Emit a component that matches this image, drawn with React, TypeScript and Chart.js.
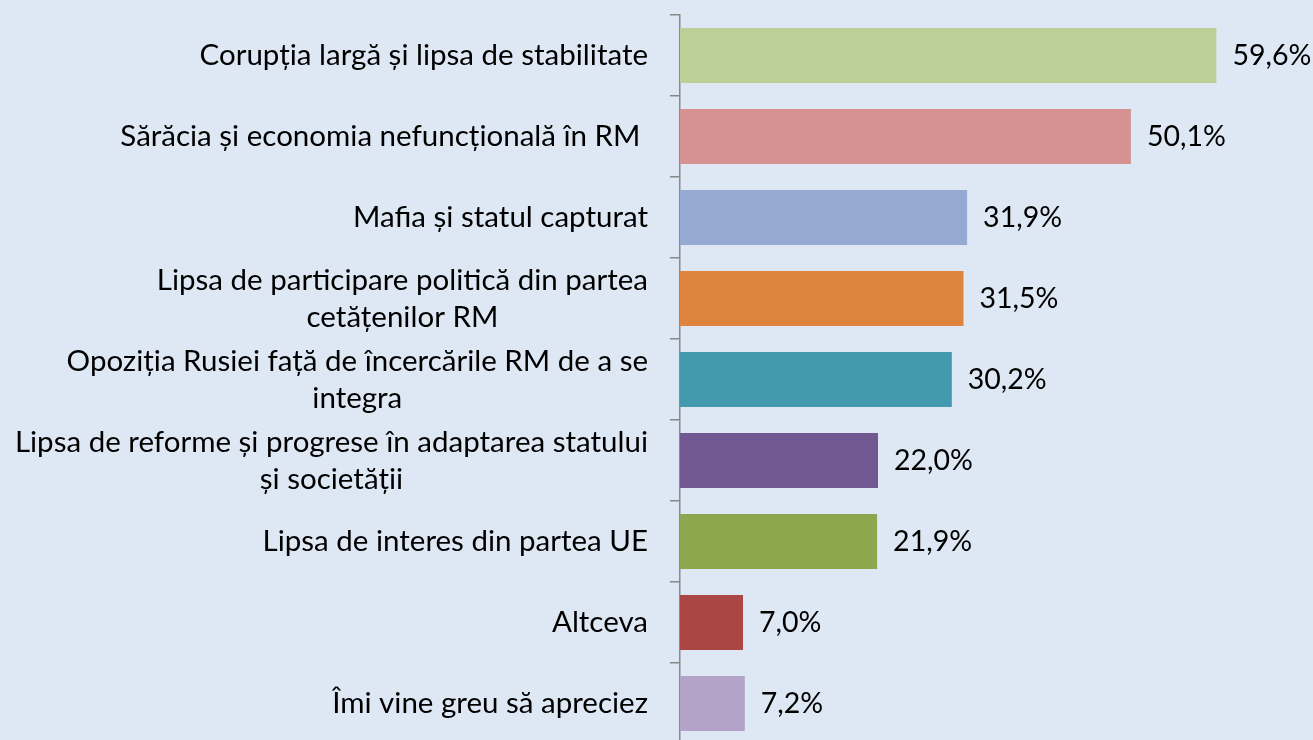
import React, { useEffect, useRef } from "react";
import { Chart, registerables } from "chart.js";

Chart.register(...registerables);

const categories: (string | string[])[] = [
  "Corupția largă și lipsa de stabilitate",
  "Sărăcia și economia nefuncțională în RM ",
  "Mafia și statul capturat",
  ["Lipsa de participare politică din partea", "cetățenilor RM"],
  ["Opoziția Rusiei față de încercările RM de a se", "integra"],
  ["Lipsa de reforme și progrese în adaptarea statului", "și societății"],
  "Lipsa de interes din partea UE",
  "Altceva",
  "Îmi vine greu să apreciez",
];

const values = [59.6, 50.1, 31.9, 31.5, 30.2, 22.0, 21.9, 7.0, 7.2];

const barColors = [
  "#BBCF97",
  "#D59291",
  "#96AAD1",
  "#DE843F",
  "#4399AE",
  "#725890",
  "#8CA74D",
  "#AA4644",
  "#B3A3C8",
];

const BG = "#DEE8F4";
const FONT = "Lato, 'Open Sans', sans-serif";
const LABEL_SIZE = 29.5;
const LINE_GAP = 37;

const valueLabels = {
  id: "valueLabels",
  afterDatasetsDraw(chart: any) {
    const ctx = chart.ctx;
    const meta = chart.getDatasetMeta(0);
    ctx.save();
    ctx.font = `28.5px ${FONT}`;
    ctx.fillStyle = "#000000";
    ctx.textAlign = "left";
    ctx.textBaseline = "middle";
    meta.data.forEach((bar: any, i: number) => {
      const v = values[i];
      ctx.fillText(v.toFixed(1).replace(".", ",") + "%", bar.x + 16, bar.y);
    });
    ctx.restore();
  },
};

const categoryLabels = {
  id: "categoryLabels",
  afterDraw(chart: any) {
    const ctx = chart.ctx;
    const yScale = chart.scales.y;
    const right = yScale.right - 10 - 22;
    ctx.save();
    ctx.font = `${LABEL_SIZE}px ${FONT}`;
    ctx.fillStyle = "#000000";
    ctx.textAlign = "center";
    ctx.textBaseline = "middle";
    categories.forEach((lab, i) => {
      const lines = Array.isArray(lab) ? lab : [lab];
      const widths = lines.map((l) => ctx.measureText(l).width);
      const maxW = Math.max(...widths);
      const cx = right - maxW / 2;
      const cy = yScale.getPixelForTick(i);
      const y0 = cy - ((lines.length - 1) * LINE_GAP) / 2;
      lines.forEach((l, k) => {
        if (lines.length === 1) {
          ctx.textAlign = "right";
          ctx.fillText(l, right, y0);
          ctx.textAlign = "center";
        } else {
          ctx.fillText(l, cx, y0 + k * LINE_GAP);
        }
      });
    });
    ctx.restore();
  },
};

const bgPlugin = {
  id: "bgFill",
  beforeDraw(chart: any) {
    const ctx = chart.ctx;
    ctx.save();
    ctx.fillStyle = BG;
    ctx.fillRect(0, 0, chart.width, chart.height);
    ctx.restore();
  },
};

export default function App() {
  const ref = useRef<HTMLCanvasElement | null>(null);

  useEffect(() => {
    if (!ref.current) return;
    const chart = new Chart(ref.current, {
      type: "bar",
      data: {
        labels: categories,
        datasets: [
          {
            data: values,
            backgroundColor: barColors,
            borderWidth: 0,
            barPercentage: 0.68,
            categoryPercentage: 1,
          },
        ],
      },
      options: {
        indexAxis: "y",
        animation: false,
        responsive: false,
        layout: { padding: { top: 15, bottom: 16, left: 0, right: 3 } },
        plugins: {
          legend: { display: false },
          tooltip: { enabled: false },
        },
        scales: {
          x: {
            display: false,
            min: 0,
            max: 70,
          },
          y: {
            afterFit(scale: any) {
              scale.width = 680;
              scale.paddingTop = 0;
              scale.paddingBottom = 0;
            },
            grid: {
              drawOnChartArea: false,
              drawTicks: true,
              tickLength: 10,
              color: "#888888",
              lineWidth: 1.5,
            },
            border: { display: true, color: "#888888", width: 1.5 },
            ticks: {
              display: false,
              autoSkip: false,
            },
          },
        },
      },
      plugins: [bgPlugin, valueLabels, categoryLabels],
    });
    return () => chart.destroy();
  }, []);

  return (
    <div
      style={{
        position: "fixed",
        left: 0,
        top: 0,
        width: 1313,
        height: 740,
        overflow: "hidden",
        background: BG,
      }}
    >
      <canvas ref={ref} width={1313} height={760} style={{ display: "block" }} />
    </div>
  );
}
